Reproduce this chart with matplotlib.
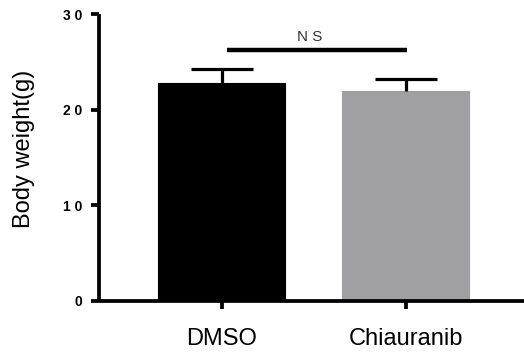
import matplotlib
matplotlib.use("Agg")
import matplotlib.pyplot as plt

categories = ["DMSO", "Chiauranib"]
means = [22.8, 22.0]
errors = [1.5, 1.2]
colors = ["#000000", "#a09fa4"]
yticks = [0, 10, 20, 30]
ytick_labels = ["0", "1 0", "2 0", "3 0"]
sig_label = "N S"
sig_y = 26.2

plt.rcParams['font.family'] = ['Liberation Sans', 'DejaVu Sans']

fig = plt.figure(figsize=(5.24, 3.53), dpi=100)
ax = fig.add_axes([99/524, 1 - 300.7/353, 1 - 99/524, (300.7 - 14.2)/353])

x = list(range(len(categories)))
ax.bar(x, means, width=0.69, color=colors, edgecolor=colors, linewidth=0.8, zorder=2)
eb = ax.errorbar(x, means, yerr=[[0]*len(errors), errors], fmt='none', ecolor='black',
                 elinewidth=2.3, capsize=22, capthick=2.3, zorder=3)
# hide the lower caps (only upward error bars are shown)
caplines = eb[1]
if len(caplines) >= 2:
    caplines[0].set_visible(False)

ax.plot([0.03, 1.01], [sig_y, sig_y], color='black', lw=3.2, solid_capstyle='butt',
        clip_on=False, zorder=3)
ax.text(0.48, sig_y + 0.7, sig_label, ha='center', va='bottom', fontsize=11,
        color='#333333')

ax.set_xlim(-0.666, 1.644)
ax.set_ylim(0, 30)
ax.set_yticks(yticks)
ax.set_yticklabels(ytick_labels, fontweight='bold', fontsize=10)
ax.set_xticks(x)
ax.set_xticklabels(categories, fontsize=17)
ax.set_ylabel("Body weight(g)", fontsize=17)
ax.yaxis.set_label_coords(-0.151, 0.53)

for side in ['top', 'right']:
    ax.spines[side].set_visible(False)
for side in ['left', 'bottom']:
    ax.spines[side].set_linewidth(2.7)
    ax.spines[side].set_capstyle('butt')
ax.tick_params(axis='both', width=2.7, length=6, direction='out')
ax.tick_params(axis='x', pad=14)
ax.tick_params(axis='y', pad=6)

fig.savefig("out.png", dpi=100)
